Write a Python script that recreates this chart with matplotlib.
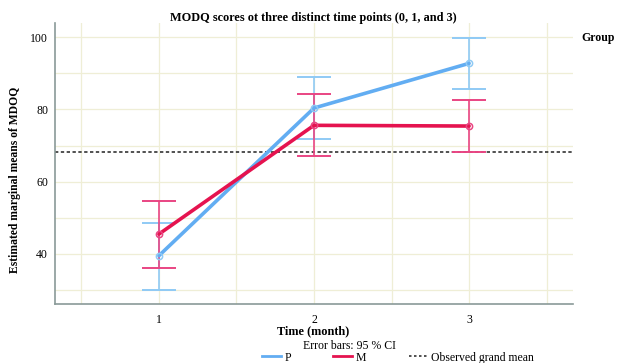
import matplotlib
matplotlib.use("Agg")

import matplotlib.pyplot as plt
from matplotlib.lines import Line2D

times = [1, 2, 3]
tick_labels = ["1", "2", "3"]

p_means = [39.4, 80.4, 92.8]
p_lower = [30.0, 71.9, 85.6]
p_upper = [48.6, 89.0, 99.9]

m_means = [45.4, 75.6, 75.4]
m_lower = [36.0, 67.2, 68.3]
m_upper = [54.7, 84.4, 82.5]

grand_mean = 68.1

blue = "#62adf2"
blue_light = "#8fcaf5"
red = "#e5134f"
red_light = "#e94583"
grid_color = "#efeed6"
spine_color = "#8a9a98"
font = "Liberation Serif"

fig = plt.figure(figsize=(6.17, 3.63), dpi=100)
ax = fig.add_axes([0.0891, 0.1625, 0.8396, 0.7741])

# grid at half units and every 10
for x in [0.5, 1, 1.5, 2, 2.5, 3, 3.5]:
    ax.axvline(x, color=grid_color, lw=0.9, zorder=0)
for y in [30, 40, 50, 60, 70, 80, 90, 100]:
    ax.axhline(y, color=grid_color, lw=0.9, zorder=0)

ax.axhline(grand_mean, color="#333333", lw=1.2, ls=(0, (2, 1.5)), zorder=1)


def draw_group(means, lower, upper, line_color, bar_color):
    yerr = [[m - lo for m, lo in zip(means, lower)],
            [hi - m for m, hi in zip(means, upper)]]
    ax.errorbar(times, means, yerr=yerr, fmt="none", ecolor=bar_color,
                elinewidth=1.2, capsize=12.5, capthick=1.4, zorder=2)
    ax.plot(times, means, color=line_color, lw=2.6, zorder=3,
            solid_capstyle="round")
    ax.plot(times, means, "o", ms=4.5, mfc="none", mec=bar_color, mew=1.1,
            zorder=4)


draw_group(p_means, p_lower, p_upper, blue, blue_light)
draw_group(m_means, m_lower, m_upper, red, red_light)

ax.set_xlim(0.33, 3.67)
ax.set_ylim(26.0, 104.0)
ax.set_xticks(times)
ax.set_xticklabels(tick_labels, fontfamily=font, fontsize=8.5)
ax.set_yticks([40, 60, 80, 100])
ax.set_yticklabels(["40", "60", "80", "100"], fontfamily=font, fontsize=8.5)
ax.tick_params(length=0, pad=5)
ax.tick_params(axis="x", pad=7)

for side in ["top", "right"]:
    ax.spines[side].set_visible(False)
for side in ["left", "bottom"]:
    ax.spines[side].set_color(spine_color)
    ax.spines[side].set_linewidth(1.2)

fig.text(0.507, 0.951, "MODQ scores ot three distinct time points (0, 1, and 3)",
         ha="center", va="center", fontfamily=font, fontweight="bold", fontsize=8.8)
fig.text(0.025, 0.505, "Estimated marginal means of MDOQ", rotation=90,
         ha="center", va="center", fontfamily=font, fontweight="bold", fontsize=8.4)
fig.text(0.507, 0.088, "Time (month)", ha="center", va="center",
         fontfamily=font, fontweight="bold", fontsize=8.8)
fig.text(0.567, 0.048, "Error bars: 95 % CI", ha="center", va="center",
         fontfamily=font, fontsize=8.5)
fig.text(0.943, 0.895, "Group", ha="left", va="center",
         fontfamily=font, fontweight="bold", fontsize=8.5)

handles = [
    Line2D([], [], color=blue, lw=2),
    Line2D([], [], color=red, lw=2),
    Line2D([], [], color="#333333", lw=1.2, ls=(0, (1.5, 1.5))),
]
fig.legend(handles, ["P", "M", "Observed grand mean"], loc="center",
           bbox_to_anchor=(0.645, 0.015), ncol=3, frameon=False,
           prop={"family": font, "size": 8.5}, handlelength=1.6,
           handletextpad=0.3, columnspacing=3.6)

fig.savefig("out.png", dpi=100)
